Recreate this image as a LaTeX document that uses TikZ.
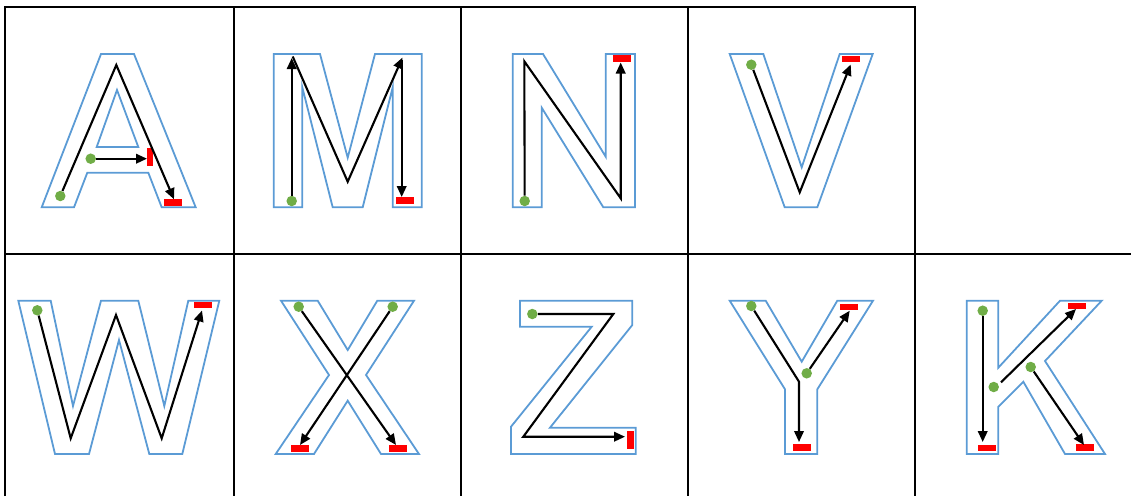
\documentclass[tikz,border=0pt]{standalone}
\usetikzlibrary{arrows.meta}
\definecolor{oblue}{HTML}{5B9BD5}
\definecolor{dgreen}{HTML}{70AD47}
\begin{document}
\begin{tikzpicture}[x=1pt,y=-1pt,
 outline/.style={draw=oblue, line width=1.8pt, line join=miter},
 stroke/.style={draw=black, line width=2.1pt, line join=miter},
 arr/.style={stroke, -{Triangle[length=11pt,width=9.5pt]}},
 gdot/.style={circle, fill=dgreen, minimum size=10.5pt, inner sep=0pt},
 hbar/.style={rectangle, fill=red, minimum width=18pt, minimum height=6.5pt, inner sep=0pt},
 vbar/.style={rectangle, fill=red, minimum width=6.5pt, minimum height=18pt, inner sep=0pt},
 gridline/.style={draw=black, line width=2pt}]
\useasboundingbox (0,0) rectangle (1131,496);
% grid
\draw[gridline] (5,496) -- (5,7) -- (915,7) -- (915,496);
\draw[gridline] (234,7) -- (234,496);
\draw[gridline] (461,7) -- (461,496);
\draw[gridline] (688,7) -- (688,496);
\draw[gridline] (5,254) -- (1131,254);

% ---------- A ----------
\draw[outline] (101,54) -- (134,54) -- (195.7,207.3) -- (161.7,207.3) -- (148.3,172.7) -- (87.3,172.7) -- (74,207.3) -- (41.7,207.3) -- cycle;
\draw[outline] (117,90) -- (138.3,147) -- (96.7,147) -- cycle;
\node[vbar] (a-e2) at (150,157.3) {};
\node[hbar] (a-e1) at (173,202.5) {};
\node[gdot] (a-s1) at (60.3,196) {};
\node[gdot] (a-s2) at (90.7,158.7) {};
\coordinate (a-top) at (116.3,65);
\coordinate (a-t1) at (174,199.3);
\coordinate (a-t2) at (147,158.7);
\draw[arr] (a-s1) -- (a-top) -- (a-t1);
\draw[arr] (a-s2) -- (a-t2);

% ---------- M ----------
\draw[outline] (273.7,207.3) -- (273.7,54) -- (320,54) -- (347.7,157.7) -- (375,54) -- (421.7,54) -- (421.7,207.3) -- (392.7,207.3) -- (392.7,87.3) -- (362.7,207.3) -- (332.7,207.3) -- (302.3,87.3) -- (302.3,207.3) -- cycle;
\node[hbar] (m-e) at (404.8,200.7) {};
\node[gdot] (m-s) at (291.7,201) {};
\coordinate (m-t1) at (291.7,58);
\coordinate (m-a) at (292.7,56.5);
\coordinate (m-v) at (347.7,181.7);
\coordinate (m-t2) at (402.5,57.5);
\coordinate (m-b) at (401.7,60);
\coordinate (m-t3) at (401.7,197);
\draw[arr] (m-s) -- (m-t1);
\draw[arr] (m-a) -- (m-v) -- (m-t2);
\draw[arr] (m-b) -- (m-t3);

% ---------- N ----------
\draw[outline] (512.7,207.3) -- (512.7,54) -- (543,54) -- (605.7,156.7) -- (605.7,54) -- (635,54) -- (635,207.3) -- (603.3,207.3) -- (541.7,107.7) -- (541.7,207.3) -- cycle;
\node[hbar] (n-e) at (621.8,58.7) {};
\node[gdot] (n-s) at (524.7,201) {};
\coordinate (n-a) at (524.3,61.3);
\coordinate (n-b) at (620.7,198.3);
\coordinate (n-t) at (620.7,62.5);
\draw[arr] (n-s) -- (n-a) -- (n-b) -- (n-t);

% ---------- V ----------
\draw[outline] (729.7,54) -- (763.3,54) -- (801.7,167.3) -- (839.7,54) -- (872.7,54) -- (817.3,207.3) -- (784.7,207.3) -- cycle;
\node[hbar] (v-e) at (851,58.8) {};
\node[gdot] (v-s) at (751.3,64.7) {};
\coordinate (v-b) at (799.7,192.3);
\coordinate (v-t) at (850.7,64.5);
\draw[arr] (v-s) -- (v-b) -- (v-t);

% ---------- W ----------
\draw[outline] (18.3,300.7) -- (50.7,300.7) -- (73,406) -- (101,300.7) -- (138.3,300.7) -- (164.3,406) -- (188.3,300.7) -- (219.3,300.7) -- (182.3,454) -- (149.3,454) -- (119,340) -- (89,454) -- (55,454) -- cycle;
\node[hbar] (w-e) at (202.7,304.8) {};
\node[gdot] (w-s) at (37.3,310.3) {};
\coordinate (w-b1) at (70.7,438.3);
\coordinate (w-m) at (116,315);
\coordinate (w-b2) at (161.7,438.3);
\coordinate (w-t) at (202,310.5);
\draw[arr] (w-s) -- (w-b1) -- (w-m) -- (w-b2) -- (w-t);

% ---------- X ----------
\draw[outline] (281,300.7) -- (317.7,300.7) -- (347.7,350) -- (377.3,300.7) -- (414,300.7) -- (366,375) -- (419,454) -- (381,454) -- (347.7,400.7) -- (314,454) -- (275.7,454) -- (329,375) -- cycle;
\node[hbar] (x-e1) at (300,448.5) {};
\node[hbar] (x-e2) at (397.8,448.5) {};
\node[gdot] (x-s1) at (298.7,306.7) {};
\node[gdot] (x-s2) at (392.7,306.7) {};
\coordinate (x-t1) at (396,445);
\coordinate (x-t2) at (300,445);
\draw[arr] (x-s1) -- (x-t1);
\draw[arr] (x-s2) -- (x-t2);

% ---------- Z ----------
\draw[outline] (520,300.7) -- (632.3,300.7) -- (632.3,325) -- (550,427.7) -- (635.7,427.7) -- (635.7,454) -- (511,454) -- (511,426.7) -- (591.7,326.7) -- (520,326.7) -- cycle;
\node[vbar] (z-e) at (630.7,439.7) {};
\node[gdot] (z-s) at (532.3,314) {};
\coordinate (z-a) at (613.3,314);
\coordinate (z-b) at (523.3,436.7);
\coordinate (z-t) at (625,436.7);
\draw[arr] (z-s) -- (z-a) -- (z-b) -- (z-t);

% ---------- Y ----------
\draw[outline] (729.7,300.7) -- (765.7,300.7) -- (801.7,361.7) -- (837.3,300.7) -- (873,300.7) -- (817.3,389.3) -- (817.3,454) -- (785,454) -- (785,389.3) -- cycle;
\node[hbar] (y-e1) at (801.8,447.3) {};
\node[hbar] (y-e2) at (848.7,307) {};
\node[gdot] (y-s1) at (751.3,306) {};
\node[gdot] (y-s2) at (806.7,373.3) {};
\coordinate (y-m) at (799,381.7);
\coordinate (y-t1) at (799,442);
\coordinate (y-t2) at (849.7,310.7);
\draw[arr] (y-s1) -- (y-m) -- (y-t1);
\draw[arr] (y-s2) -- (y-t2);

% ---------- K ----------
\draw[outline] (966.7,300.7) -- (998.3,300.7) -- (998.3,367.7) -- (1060,300.7) -- (1101.7,300.7) -- (1045,361) -- (1105,454) -- (1065,454) -- (1023.3,381.7) -- (998.3,406.7) -- (998.3,454) -- (966.7,454) -- cycle;
\node[hbar] (k-e1) at (987,447.8) {};
\node[hbar] (k-e2) at (1076.8,305.8) {};
\node[hbar] (k-e3) at (1084.8,447.5) {};
\node[gdot] (k-s1) at (982.7,310.7) {};
\node[gdot] (k-s2) at (993.7,387) {};
\node[gdot] (k-s3) at (1030.7,367) {};
\coordinate (k-t1) at (982.7,442);
\coordinate (k-a) at (1001,382.3);
\coordinate (k-t2) at (1076,309);
\coordinate (k-t3) at (1084,445);
\draw[arr] (k-s1) -- (k-t1);
\draw[arr] (k-a) -- (k-t2);
\draw[arr] (k-s3) -- (k-t3);
\end{tikzpicture}
\end{document}
